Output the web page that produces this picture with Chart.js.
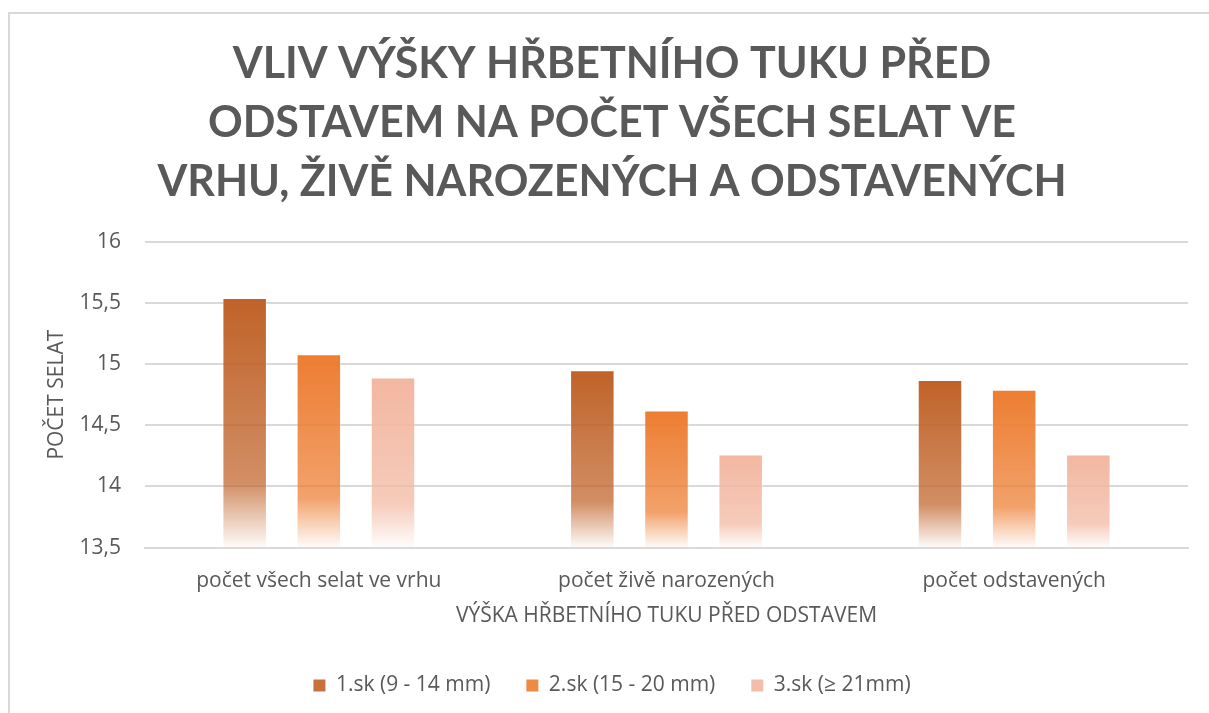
<!DOCTYPE html>
<html>
<head>
<meta charset="utf-8">
<script src="https://cdn.jsdelivr.net/npm/chart.js@4/dist/chart.umd.min.js"></script>
<style>
  html, body { margin: 0; padding: 0; background: #fff; overflow: hidden; }
  #frame {
    position: absolute; left: 8px; top: 12px; width: 1400px; height: 900px;
    border: 2px solid #d9d9d9; box-sizing: border-box;
  }
  #wrap { position: absolute; left: 0; top: 0; width: 1209px; height: 713px; }
</style>
</head>
<body>
<div id="frame"></div>
<div id="wrap"><canvas id="chart"></canvas></div>
<script>
// data
const categories = ['počet všech selat ve vrhu', 'počet živě narozených', 'počet odstavených'];
const seriesNames = ['1.sk (9 - 14 mm)', '2.sk (15 - 20 mm)', '3.sk (≥ 21mm)'];
const sk1 = [15.54, 14.95, 14.87];
const sk2 = [15.08, 14.62, 14.79];
const sk3 = [14.89, 14.26, 14.26];
const yTicks = [13.5, 14, 14.5, 15, 15.5, 16];
const yTitle = 'POČET SELAT';

const baseColors = [[192, 98, 40], [237, 125, 49], [242, 183, 160]];
const textColor = '#595959';
const fontFamily = '"Open Sans", sans-serif';
const titleFamily = 'Lato, "Open Sans", sans-serif';
const leftPad = 36;

function rgba(c, a) {
  return 'rgba(' + c[0] + ',' + c[1] + ',' + c[2] + ',' + a + ')';
}

// each bar fades towards white in its lower quarter
function barFill(idx) {
  return function (ctx) {
    var chart = ctx.chart;
    var area = chart.chartArea;
    var c = baseColors[idx];
    if (!area || ctx.type !== 'data' || !chart.scales.y) return rgba(c, 0.85);
    var top = chart.scales.y.getPixelForValue(ctx.raw);
    var bottom = area.bottom;
    var g = chart.ctx.createLinearGradient(0, top, 0, bottom);
    g.addColorStop(0, rgba(c, 1));
    g.addColorStop(0.74, rgba(c, 0.72));
    g.addColorStop(1, rgba(c, 0.02));
    return g;
  };
}

function makeDataset(i, values) {
  return {
    label: seriesNames[i],
    data: values,
    backgroundColor: barFill(i),
    borderColor: 'rgba(255,255,255,0.35)',
    borderWidth: 1,
    barPercentage: 0.6,
    categoryPercentage: 0.64
  };
}

// vertical axis title, drawn by hand so it sits where the original has it
const yTitlePlugin = {
  id: 'yTitle',
  afterDraw: function (chart) {
    var ctx = chart.ctx;
    var area = chart.chartArea;
    ctx.save();
    ctx.translate(57, (area.top + area.bottom) / 2);
    ctx.rotate(-Math.PI / 2);
    ctx.fillStyle = textColor;
    ctx.font = '21px ' + fontFamily;
    ctx.textAlign = 'center';
    ctx.textBaseline = 'middle';
    ctx.fillText(yTitle, 0, 0);
    ctx.restore();
  }
};

new Chart(document.getElementById('chart'), {
  type: 'bar',
  data: {
    labels: categories,
    datasets: [makeDataset(0, sk1), makeDataset(1, sk2), makeDataset(2, sk3)]
  },
  plugins: [yTitlePlugin],
  options: {
    responsive: true,
    maintainAspectRatio: false,
    animation: false,
    layout: { padding: { left: leftPad, right: 21, top: 35, bottom: 7 } },
    plugins: {
      title: {
        display: true,
        text: ['VLIV VÝŠKY HŘBETNÍHO TUKU PŘED', 'ODSTAVEM NA POČET VŠECH SELAT VE', 'VRHU, ŽIVĚ NAROZENÝCH A ODSTAVENÝCH'],
        color: textColor,
        font: { family: titleFamily, size: 43, weight: 'bold', lineHeight: 1.37 },
        padding: { top: 0, bottom: 30 }
      },
      legend: {
        position: 'bottom',
        labels: {
          color: textColor,
          font: { family: fontFamily, size: 21 },
          boxWidth: 12,
          boxHeight: 12,
          padding: 36,
          generateLabels: function (chart) {
            return chart.data.datasets.map(function (ds, i) {
              return {
                text: ds.label,
                fillStyle: rgba(baseColors[i], 0.9),
                strokeStyle: 'rgba(0,0,0,0)',
                lineWidth: 0,
                fontColor: textColor,
                datasetIndex: i
              };
            });
          }
        }
      },
      tooltip: { enabled: false }
    },
    scales: {
      x: {
        grid: { display: false },
        border: { color: '#d9d9d9', width: 2 },
        ticks: { color: textColor, font: { family: fontFamily, size: 21 }, padding: 13 },
        title: {
          display: true,
          text: 'VÝŠKA HŘBETNÍHO TUKU PŘED ODSTAVEM',
          color: textColor,
          font: { family: fontFamily, size: 21 },
          padding: { top: -3, bottom: 10 }
        }
      },
      y: {
        min: yTicks[0],
        max: yTicks[yTicks.length - 1],
        border: { display: false },
        grid: { color: '#d9d9d9', lineWidth: 2, drawTicks: false },
        afterBuildTicks: function (axis) {
          axis.ticks = yTicks.map(function (v) { return { value: v }; });
        },
        afterFit: function (axis) {
          axis.width = 145 - leftPad;
        },
        ticks: {
          color: textColor,
          font: { family: fontFamily, size: 21 },
          padding: 24,
          callback: function (v) { return String(v).replace('.', ','); }
        }
      }
    }
  }
});
</script>
</body>
</html>
